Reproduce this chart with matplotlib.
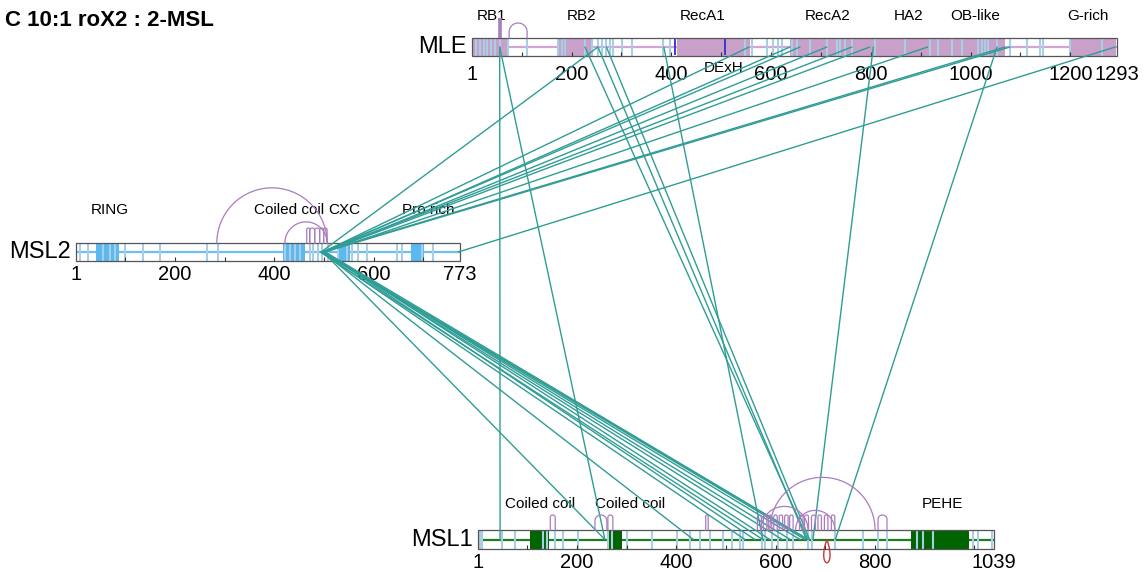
import matplotlib
matplotlib.use("Agg")
import matplotlib.pyplot as plt
import numpy as np
from matplotlib.patches import Rectangle, PathPatch
from matplotlib.path import Path

plt.rcParams['font.family'] = ['Liberation Sans', 'DejaVu Sans']

# ---------------- data ----------------
title = "C 10:1 roX2 : 2-MSL"
protein_names = ["MLE", "MSL2", "MSL1"]
protein_lengths = [1293, 773, 1039]

mle_ticks = [1, 200, 400, 600, 800, 1000, 1200, 1293]
msl2_ticks = [1, 200, 400, 600, 773]
msl1_ticks = [1, 200, 400, 600, 800, 1039]

mle_domain_names = ["RB1", "RB2", "RecA1", "RecA2", "HA2", "OB-like", "G-rich"]
mle_domain_start = [1, 171, 411, 638, 808, 994, 1198]
mle_domain_end = [73, 243, 558, 808, 994, 1068, 1290]
mle_label_res = [39, 221, 462, 714, 876, 1009, 1235]
mle_motif_names = ["DExH"]
mle_motif_res = [504]
mle_motif_marks = [407, 508]

msl2_domain_start = [41, 417, 526, 675]
msl2_domain_end = [87, 461, 552, 700]
msl2_label_names = ["RING", "Coiled coil", "CXC", "Pro rich"]
msl2_label_res = [69, 430, 540, 709]

msl1_domain_start = [106, 261, 872]
msl1_domain_end = [142, 289, 988]
msl1_label_names = ["Coiled coil", "Coiled coil", "PEHE"]
msl1_label_res = [126, 307, 935]

# crosslinked residues (light-blue markers)
mle_marks = [8, 17, 25, 31, 38, 47, 57, 73, 110, 173, 181, 187, 227, 241, 253,
             261, 269, 277, 283, 301, 321, 384, 398, 548, 561, 592, 604, 614,
             622, 642, 652, 678, 712, 732, 738, 748, 762, 808, 868, 918, 934,
             962, 982, 1015, 1023, 1029, 1035, 1053, 1079, 1113, 1139, 1145,
             1199, 1263]
msl2_marks = [9, 25, 55, 69, 79, 100, 136, 170, 264, 286, 421, 431, 441, 451,
              471, 477, 488, 496, 508, 528, 546, 556, 568, 586, 646, 656, 697, 719]
msl1_marks = [5, 9, 49, 75, 132, 140, 156, 172, 202, 263, 270, 300, 351, 401,
              427, 448, 468, 494, 512, 528, 534, 572, 578, 592, 605, 623, 635,
              665, 673, 719, 776, 806, 824, 884, 896, 916, 997, 1007, 1035]

# inter-protein crosslinks
mle_msl1_mle = [56, 56, 227, 253, 270, 385, 805, 1053]
mle_msl1_msl1 = [45, 256, 665, 662, 668, 574, 675, 720]

msl2_mle_msl2 = [494, 498, 500, 496, 502, 498, 500, 503, 496, 500, 770]
msl2_mle_mle = [253, 556, 638, 658, 712, 762, 798, 914, 1069, 1079, 1290]

msl2_msl1_msl2 = [498, 496, 494, 500, 492, 502, 498, 500, 496, 498, 502, 494]
msl2_msl1_msl1 = [256, 434, 538, 558, 574, 588, 613, 629, 649, 659, 665, 665]

# self links
mle_self_a = [75]
mle_self_b = [111]
mle_self_stub = [57]
msl2_self_a = [284, 421, 465, 471, 481, 491, 499]
msl2_self_b = [506, 506, 471, 481, 491, 499, 506]
msl1_self_a = [588, 570, 640, 563, 575, 585, 596, 607, 618, 628, 648, 658, 672,
               685, 698, 712, 459, 806, 146, 236, 262]
msl1_self_b = [800, 665, 719, 571, 582, 592, 603, 614, 625, 635, 655, 666, 680,
               692, 705, 719, 464, 824, 156, 260, 272]
msl1_homo_res = [703]

# ---------------- layout / style ----------------
layout = {
    "MLE": dict(xl=472, xr=1117, ytop=38, h=18, name_y=47, lab_y=16, tick_y=75),
    "MSL2": dict(xl=76, xr=460, ytop=243, h=18, name_y=252, lab_y=210, tick_y=275),
    "MSL1": dict(xl=478, xr=994, ytop=530, h=19, name_y=540, lab_y=504, tick_y=563),
}
dom_color = {"MLE": "#c8a0c9", "MSL2": "#5cb9f0", "MSL1": "#006400"}
mid_color = {"MLE": "#d3a5d4", "MSL2": "#6cbff0", "MSL1": "#1e7d1e"}
mark_color = "#a9cfe6"
link_color = "#2f9d95"
self_color = "#a97cc0"

lengths = dict(zip(protein_names, protein_lengths))


def X(p, r):
    L = layout[p]
    s = (L["xr"] - L["xl"]) / lengths[p]
    return L["xl"] + (np.asarray(r, dtype=float) - 0.5) * s


def yc(p):
    L = layout[p]
    return L["ytop"] + L["h"] / 2


fig = plt.figure(figsize=(11.44, 5.71), dpi=100)
ax = fig.add_axes([0, 0, 1, 1])
ax.set_xlim(0, 1144)
ax.set_ylim(571, 0)
ax.axis("off")

ax.text(5, 20, title, fontsize=16, fontweight="bold", ha="left", va="center")

domains = {
    "MLE": (mle_domain_start, mle_domain_end),
    "MSL2": (msl2_domain_start, msl2_domain_end),
    "MSL1": (msl1_domain_start, msl1_domain_end),
}
labels = {
    "MLE": (mle_domain_names, mle_label_res),
    "MSL2": (msl2_label_names, msl2_label_res),
    "MSL1": (msl1_label_names, msl1_label_res),
}
marks = {"MLE": mle_marks, "MSL2": msl2_marks, "MSL1": msl1_marks}
ticks = {"MLE": mle_ticks, "MSL2": msl2_ticks, "MSL1": msl1_ticks}

for p in protein_names:
    L = layout[p]
    ytop, h = L["ytop"], L["h"]
    ybot = ytop + h
    ax.add_patch(Rectangle((L["xl"], ytop), L["xr"] - L["xl"], h,
                           facecolor="white", edgecolor="none", zorder=1))
    ax.plot([L["xl"], L["xr"]], [yc(p), yc(p)], color=mid_color[p], lw=1.6,
            zorder=2, solid_capstyle="butt")
    for a, b in zip(*domains[p]):
        xa, xb = X(p, a - 0.5), X(p, b + 0.5)
        ax.add_patch(Rectangle((xa, ytop), xb - xa, h, facecolor=dom_color[p],
                               edgecolor="none", zorder=3))
    ax.vlines(X(p, marks[p]), ytop, ybot, color=mark_color, lw=1.5, zorder=4)
    ax.add_patch(Rectangle((L["xl"], ytop), L["xr"] - L["xl"], h,
                           facecolor="none", edgecolor="#555555", lw=0.9, zorder=5))
    hundreds = np.arange(100, lengths[p], 100)
    ax.vlines(X(p, hundreds), ybot - 4, ybot, color="#333333", lw=0.8, zorder=5)
    for t in ticks[p]:
        ax.text(X(p, t), L["tick_y"], str(t), fontsize=14.5, ha="center",
                va="center", zorder=1)
    ax.text(L["xl"] - 5, L["name_y"], p, fontsize=17, ha="right",
            va="center", zorder=1)
    for n, r in zip(*labels[p]):
        ax.text(X(p, r), L["lab_y"], n, fontsize=11, ha="center",
                va="center", zorder=1)

# MLE motif
for n, r in zip(mle_motif_names, mle_motif_res):
    ax.text(X("MLE", r), 68, n, fontsize=11, ha="center", va="center", zorder=1)
ax.vlines(X("MLE", mle_motif_marks), layout["MLE"]["ytop"] + 1,
          layout["MLE"]["ytop"] + layout["MLE"]["h"] - 1, color="#3a3ad0",
          lw=1.4, zorder=4)


def link(p1, r1s, p2, r2s):
    for r1, r2 in zip(r1s, r2s):
        ax.plot([X(p1, r1), X(p2, r2)], [yc(p1), yc(p2)], color=link_color,
                lw=1.0, zorder=6, solid_capstyle="round")


link("MLE", mle_msl1_mle, "MSL1", mle_msl1_msl1)
link("MSL2", msl2_mle_msl2, "MLE", msl2_mle_mle)
link("MSL2", msl2_msl1_msl2, "MSL1", msl2_msl1_msl1)


def selflinks(p, as_, bs, minh=15):
    ytop = layout[p]["ytop"]
    for a, b in zip(as_, bs):
        x1, x2 = X(p, a), X(p, b)
        w = (x2 - x1) / 2
        cx = (x1 + x2) / 2
        H = max(w, minh)
        base = ytop - (H - w)
        th = np.linspace(np.pi, 0, 60)
        xs = np.concatenate([[x1], cx + w * np.cos(th), [x2]])
        ys = np.concatenate([[ytop], base - w * np.sin(th), [ytop]])
        ax.plot(xs, ys, color=self_color, lw=0.9, zorder=6)


selflinks("MLE", mle_self_a, mle_self_b)
selflinks("MSL2", msl2_self_a, msl2_self_b)
selflinks("MSL1", msl1_self_a, msl1_self_b)

# homodimeric stub on MLE
for r in mle_self_stub:
    ax.plot([X("MLE", r), X("MLE", r)], [layout["MLE"]["ytop"], 18],
            color=self_color, lw=2.6, zorder=6, solid_capstyle="butt")

# homomultimeric loop on MSL1 (below bar)
for r in msl1_homo_res:
    x = float(X("MSL1", r))
    y0 = yc("MSL1")
    verts = [(x, y0), (x - 11, y0 + 31), (x + 11, y0 + 31), (x, y0)]
    path = Path(verts, [Path.MOVETO, Path.CURVE4, Path.CURVE4, Path.CURVE4])
    ax.add_patch(PathPatch(path, facecolor="none", edgecolor="#c0393b",
                           lw=1.0, zorder=6))

fig.savefig("out.png", dpi=100)
